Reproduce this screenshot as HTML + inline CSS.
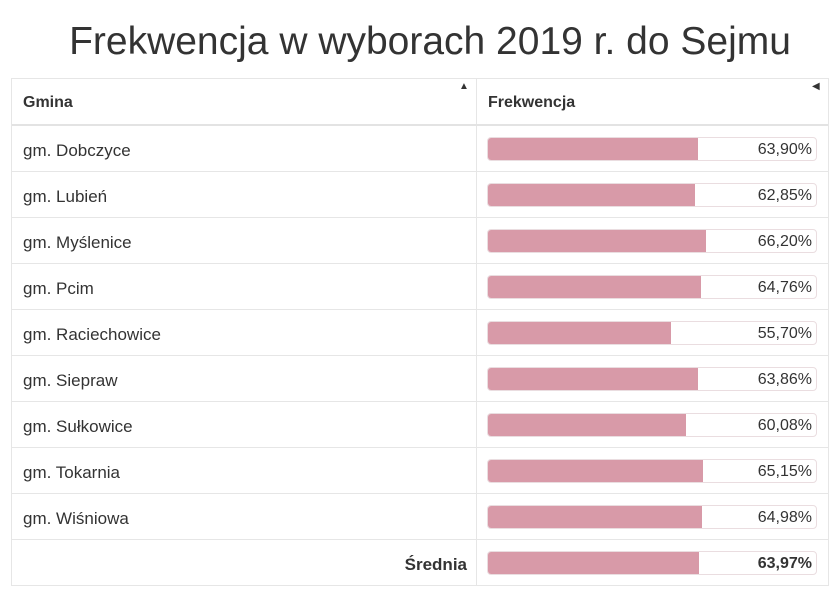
<!DOCTYPE html>
<html><head><meta charset="utf-8"><style>
body{margin:0;width:838px;height:591px;background:#fff;font-family:"Liberation Sans","DejaVu Sans",sans-serif;color:#333;position:relative;overflow:hidden}
.t{position:absolute;left:0;width:860px;top:20px;text-align:center;font-size:39px;color:#333}
.tb{position:absolute;left:11px;top:78px;width:816px;border:1px solid #e6e6e6;border-bottom:none}
.r{position:relative;height:46px;border-bottom:1px solid #e6e6e6;box-sizing:border-box}
.h{height:47px;border-bottom:2px solid #e3e3e3;font-weight:bold;font-size:16px}
.c1{position:absolute;left:0;top:0;width:464px;height:100%;border-right:1px solid #e6e6e6}
.lab{position:absolute;left:11px;top:15px;font-size:17px}
.bar{position:absolute;left:475px;top:11px;width:330px;height:24px;border:1px solid #eadde0;border-radius:4px;box-sizing:border-box;overflow:hidden}
.f{position:absolute;left:0;top:0;bottom:0;background:#d89aa8}
.v{position:absolute;right:4px;top:3px;font-size:16px}
</style></head><body>
<div class="t">Frekwencja w wyborach 2019 r. do Sejmu</div>
<div class="tb">
<div class="r h"><div class="c1"></div><span style="position:absolute;left:11px;top:15px">Gmina</span><span style="position:absolute;left:447px;top:2px;font-size:10px">▲</span><span style="position:absolute;left:476px;top:15px">Frekwencja</span><span style="position:absolute;left:800px;top:2px;font-size:10px">◀</span></div>
<div class="r"><div class="c1"></div><span class="lab">gm. Dobczyce</span><div class="bar"><div class="f" style="width:210px"></div><span class="v">63,90%</span></div></div>
<div class="r"><div class="c1"></div><span class="lab">gm. Lubień</span><div class="bar"><div class="f" style="width:207px"></div><span class="v">62,85%</span></div></div>
<div class="r"><div class="c1"></div><span class="lab">gm. Myślenice</span><div class="bar"><div class="f" style="width:218px"></div><span class="v">66,20%</span></div></div>
<div class="r"><div class="c1"></div><span class="lab">gm. Pcim</span><div class="bar"><div class="f" style="width:213px"></div><span class="v">64,76%</span></div></div>
<div class="r"><div class="c1"></div><span class="lab">gm. Raciechowice</span><div class="bar"><div class="f" style="width:183px"></div><span class="v">55,70%</span></div></div>
<div class="r"><div class="c1"></div><span class="lab">gm. Siepraw</span><div class="bar"><div class="f" style="width:210px"></div><span class="v">63,86%</span></div></div>
<div class="r"><div class="c1"></div><span class="lab">gm. Sułkowice</span><div class="bar"><div class="f" style="width:198px"></div><span class="v">60,08%</span></div></div>
<div class="r"><div class="c1"></div><span class="lab">gm. Tokarnia</span><div class="bar"><div class="f" style="width:215px"></div><span class="v">65,15%</span></div></div>
<div class="r"><div class="c1"></div><span class="lab">gm. Wiśniowa</span><div class="bar"><div class="f" style="width:214px"></div><span class="v">64,98%</span></div></div>
<div class="r"><div class="c1"></div><span class="lab" style="left:auto;right:361px;font-weight:bold">Średnia</span><div class="bar"><div class="f" style="width:211px"></div><span class="v" style="font-weight:bold">63,97%</span></div></div>
</div>
</body></html>
